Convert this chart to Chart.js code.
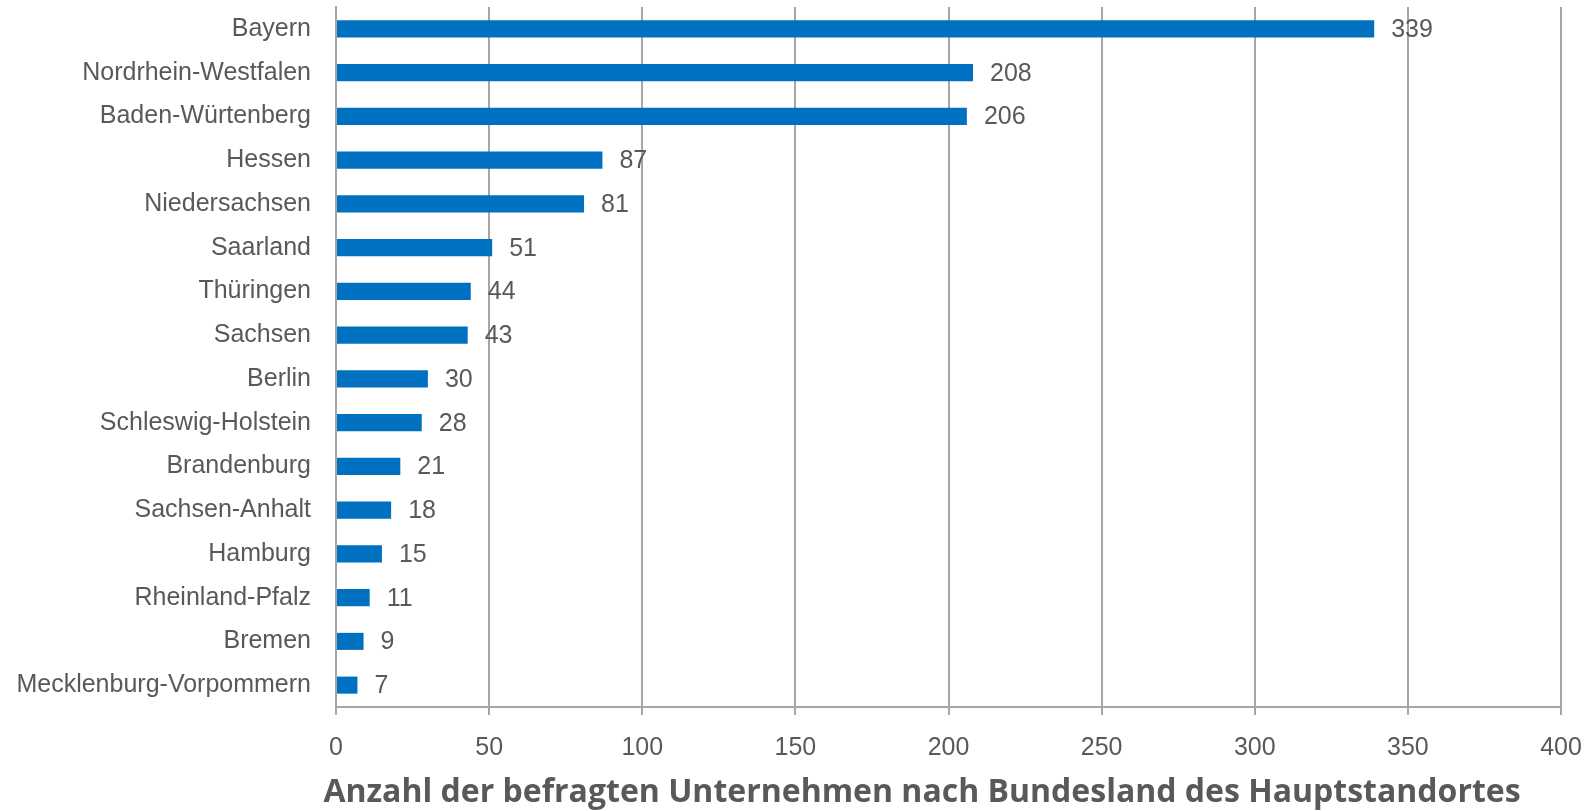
<!DOCTYPE html>
<html>
<head>
<meta charset="utf-8">
<script src="https://cdn.jsdelivr.net/npm/chart.js@4"></script>
<style>
  html, body { margin: 0; padding: 0; background: #fff; }
</style>
</head>
<body>
<canvas id="bundeslandChart" width="1588" height="811"></canvas>
<script>
var states = ["Bayern", "Nordrhein-Westfalen", "Baden-Würtenberg", "Hessen", "Niedersachsen",
    "Saarland", "Thüringen", "Sachsen", "Berlin", "Schleswig-Holstein", "Brandenburg",
    "Sachsen-Anhalt", "Hamburg", "Rheinland-Pfalz", "Bremen", "Mecklenburg-Vorpommern"];
var companyCounts = [339, 208, 206, 87, 81, 51, 44, 43, 30, 28, 21, 18, 15, 11, 9, 7];
var xTicks = [0, 50, 100, 150, 200, 250, 300, 350, 400];
var axisTitle = "Anzahl der befragten Unternehmen nach Bundesland des Hauptstandortes";

var textGray = "#595959";
var gridGray = "#a6a6a6";
var labelFont = "'Liberation Sans', Arial, sans-serif";

// value next to each bar end, plus the axis title under the chart
var valueLabels = {
    id: "valueLabels",
    afterDatasetsDraw: function (chart) {
        var ctx = chart.ctx;
        var meta = chart.getDatasetMeta(0);
        ctx.save();
        ctx.font = "25px " + labelFont;
        ctx.fillStyle = textGray;
        ctx.textAlign = "left";
        ctx.textBaseline = "middle";
        meta.data.forEach(function (bar, i) {
            ctx.fillText(String(companyCounts[i]), bar.x + 17, bar.y + 1);
        });
        ctx.font = "bold 32px 'Open Sans', sans-serif";
        ctx.textAlign = "center";
        ctx.fillText(axisTitle, 922, 793);
        ctx.restore();
    }
};

new Chart(document.getElementById("bundeslandChart"), {
    type: "bar",
    data: {
        labels: states,
        datasets: [{
            data: companyCounts,
            backgroundColor: "#0070c0",
            borderWidth: 0,
            barPercentage: 0.39,
            categoryPercentage: 1.0
        }]
    },
    options: {
        indexAxis: "y",
        responsive: false,
        animation: false,
        layout: { padding: { left: 0, right: 27, top: 7, bottom: 0 } },
        plugins: {
            legend: { display: false },
            tooltip: { enabled: false }
        },
        scales: {
            x: {
                min: 0,
                max: 400,
                afterBuildTicks: function (scale) {
                    scale.ticks = xTicks.map(function (v) { return { value: v }; });
                },
                afterFit: function (scale) {
                    scale.height = 104;
                    scale.paddingLeft = 0;
                    scale.paddingRight = 0;
                },
                grid: {
                    color: gridGray,
                    lineWidth: 2,
                    tickLength: 8,
                    drawTicks: true
                },
                border: { color: gridGray, width: 2 },
                ticks: {
                    color: textGray,
                    padding: 18,
                    font: { family: labelFont, size: 25 }
                }
            },
            y: {
                afterFit: function (scale) {
                    scale.width = 336;
                    scale.paddingTop = 0;
                    scale.paddingBottom = 0;
                },
                grid: {
                    drawOnChartArea: false,
                    tickLength: 9,
                    lineWidth: 2,
                    color: function (c) { return c.index === states.length ? gridGray : "rgba(0,0,0,0)"; }
                },
                border: { color: gridGray, width: 2 },
                ticks: {
                    color: textGray,
                    padding: 16,
                    font: { family: labelFont, size: 25 }
                }
            }
        }
    },
    plugins: [valueLabels]
});
</script>
</body>
</html>
